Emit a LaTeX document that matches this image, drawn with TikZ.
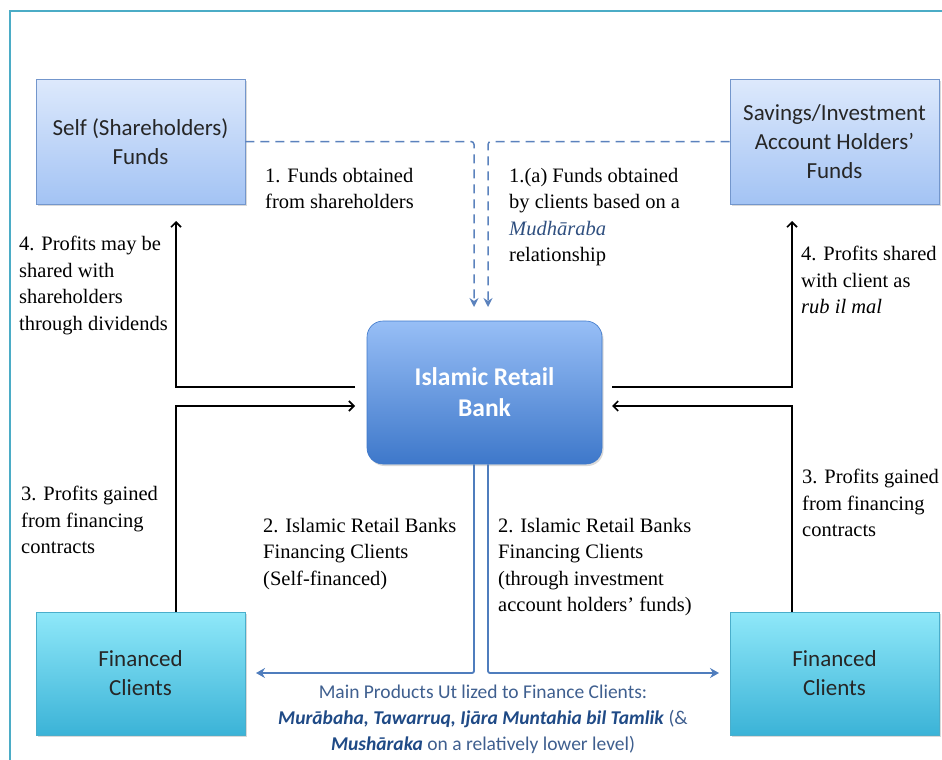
\documentclass[tikz,border=0pt]{standalone}
\usepackage{fontspec}
\setmainfont{Liberation Serif}
\setsansfont{Carlito}
\usetikzlibrary{arrows.meta,shadows}
\definecolor{framecol}{HTML}{4BACC6}
\definecolor{fundtop}{HTML}{DDE9FC}
\definecolor{fundbot}{HTML}{A3C3F4}
\definecolor{fundedge}{HTML}{7396CC}
\definecolor{banktop}{HTML}{97BEF6}
\definecolor{bankbot}{HTML}{3E78CA}
\definecolor{clienttop}{HTML}{8FE8F9}
\definecolor{clientbot}{HTML}{3BB3D7}
\definecolor{clientedge}{HTML}{4AAECB}
\definecolor{dashcol}{HTML}{5B82BD}
\definecolor{prodcol}{HTML}{4F7DBD}
\definecolor{prodtext}{HTML}{3F5F8F}
\definecolor{prodname}{HTML}{1F4A86}
\definecolor{mudcol}{HTML}{2F4F7F}
\begin{document}
\begin{tikzpicture}[x=1pt,y=-1pt,
  boxshadow/.style={drop shadow={opacity=0.3,shadow xshift=1.5pt,shadow yshift=-2pt}},
  fundbox/.style={draw=fundedge,line width=0.8pt,top color=fundtop,bottom color=fundbot,
    minimum width=209pt,minimum height=125pt,inner sep=0pt,align=center,
    font=\sffamily\fontsize{23}{29}\selectfont,text=black!85,boxshadow},
  bankbox/.style={draw=bankbot,line width=0.6pt,rounded corners=16pt,top color=banktop,bottom color=bankbot,
    minimum width=235pt,minimum height=143pt,inner sep=0pt,align=center,
    font=\sffamily\bfseries\fontsize{25.5}{31}\selectfont,text=white,boxshadow},
  clientbox/.style={draw=clientedge,line width=0.6pt,top color=clienttop,bottom color=clientbot,
    minimum width=209pt,minimum height=123pt,inner sep=0pt,align=center,
    font=\sffamily\fontsize{23}{29}\selectfont,text=black!85,boxshadow},
  note/.style={anchor=north west,inner sep=0pt,align=left,font=\fontsize{20.5}{26.5}\selectfont},
  fundflow/.style={dashcol,line width=1.5pt,dash pattern=on 9pt off 6pt,rounded corners=3pt,
    -{Stealth[length=9pt,width=9pt,inset=3pt]}},
  profit/.style={black,line width=1.6pt,-{Straight Barb[length=5pt,width=10pt]}},
  prodflow/.style={prodcol,line width=1.8pt,rounded corners=2pt,-{Stealth[length=9pt,width=10pt,inset=3pt]}}]
\useasboundingbox (0,0) rectangle (942,760);
\draw [framecol,line width=1.5pt] (10,760) -- (10,11) -- (942,11);
\node [fundbox] (self) at (140.5,141.5) {Self (Shareholders)\\Funds};
\node [fundbox] (savings) at (834.5,141.5) {Savings/Investment\\Account Holders’\\Funds};
\node [bankbox] (bank) at (484.5,392.5) {Islamic Retail\\Bank};
\node [clientbox] (fcl) at (140.5,673.5) {Financed\\Clients};
\node [clientbox] (fcr) at (834.5,673.5) {Financed\\Clients};
\coordinate (dl) at (474,307);
\coordinate (dr) at (488,307);
\draw [fundflow] (self.east) -| (dl);
\draw [fundflow] (savings.west) -| (dr);
\coordinate (s4) at (176,221);
\coordinate (b4) at (355,387);
\coordinate (b3) at (355,406);
\draw [profit] (b4) -| (s4);
\draw [profit] (fcl.north -| s4) |- (b3);
\coordinate (v4) at (792,221);
\coordinate (r4) at (612,387);
\coordinate (r3) at (612,406);
\draw [profit] (r4) -| (v4);
\draw [profit] (fcr.north -| v4) |- (r3);
\coordinate (pl) at (256,673);
\coordinate (pr) at (719,673);
\draw [prodflow] (bank.south -| dl) |- (pl);
\draw [prodflow] (bank.south -| dr) |- (pr);
\node [note] (l1) at (265,168) {1. Funds obtained\\from shareholders};
\node [note] (l1a) at (509,168) {1.(a) Funds obtained\\by clients based on a\\\textcolor{mudcol}{\textit{Mudhāraba}}\\relationship};
\node [note] (l4l) at (19,236) {4. Profits may be\\shared with\\shareholders\\through dividends};
\node [note] (l4r) at (801,246) {4. Profits shared\\with client as\\\textit{rub il mal}};
\node [note] (l3l) at (21,486) {3. Profits gained\\from financing\\contracts};
\node [note] (l3r) at (802,469) {3. Profits gained\\from financing\\contracts};
\node [note] (l2l) at (263,518) {2. Islamic Retail Banks\\Financing Clients\\(Self-financed)};
\node [note] (l2r) at (498,518) {2. Islamic Retail Banks\\Financing Clients\\(through investment\\account holders’ funds)};
\node [anchor=north,inner sep=0pt,align=center,text=prodtext,font=\sffamily\fontsize{19.5}{26}\selectfont] (prod) at (483,684.5)
  {Main Products Ut lized to Finance Clients:\\\textcolor{prodname}{\textbf{\textit{Murābaha, Tawarruq, Ijāra Muntahia bil Tamlik}}} (\&\\\textcolor{prodname}{\textbf{\textit{Mushāraka}}} on a relatively lower level)};
\end{tikzpicture}
\end{document}
